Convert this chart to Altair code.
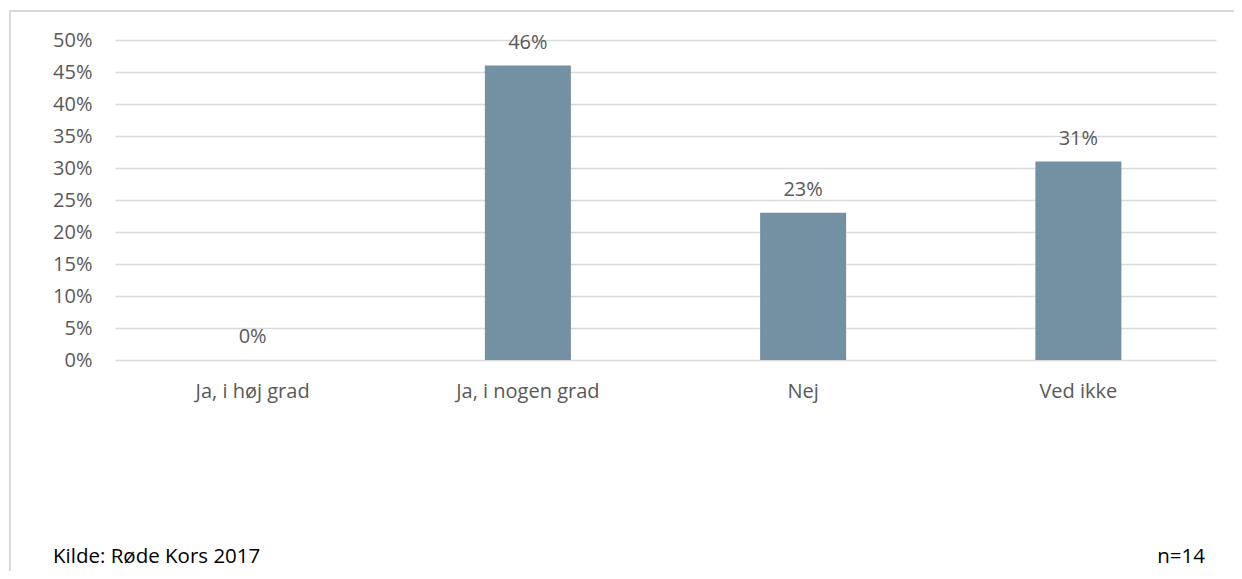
import altair as alt
import pandas as pd

categories = ["Ja, i høj grad", "Ja, i nogen grad", "Nej", "Ved ikke"]
values = [0.0, 0.46, 0.23, 0.31]
labels = ["0%", "46%", "23%", "31%"]
tick_values = [0.0, 0.05, 0.10, 0.15, 0.20, 0.25, 0.30, 0.35, 0.40, 0.45, 0.50]
source_note = "Kilde: Røde Kors 2017"
n_note = "n=14"

df = pd.DataFrame({"cat": categories, "val": values, "lab": labels})

FONT = "Open Sans"
TXT = "#595959"
W, H = 1101, 320
FS = 20

x = alt.X("cat:N", sort=categories, title=None,
          scale=alt.Scale(paddingInner=0, paddingOuter=0),
          axis=alt.Axis(labelAngle=0, ticks=False, domain=False, labelPadding=21,
                        labelFontSize=FS, labelColor=TXT, labelFont=FONT, grid=False))
y = alt.Y("val:Q", title=None,
          scale=alt.Scale(domain=[0, 0.5], nice=False),
          axis=alt.Axis(format=".0%", values=tick_values, ticks=False,
                        domain=False, labelPadding=23, labelFontSize=FS, labelColor=TXT,
                        labelFont=FONT, labelOverlap=False, labelFlush=False,
                        gridColor="#d9d9d9", gridWidth=1.3))

base = alt.Chart(df).encode(x=x, y=y)
bars = base.mark_bar(size=86, color="#7391a3")
text = base.mark_text(dy=-17, baseline="alphabetic", fontSize=FS, color=TXT, font=FONT).encode(text="lab:N")

frame = alt.Chart(df).mark_rect(fill=None, stroke="#d9d9d9", strokeWidth=1.5).encode(
    x=alt.value(-105), x2=alt.value(1200), y=alt.value(-29), y2=alt.value(600))

notes = pd.DataFrame({"t": [source_note]})
note1 = alt.Chart(notes).mark_text(align="left", baseline="alphabetic", fontSize=20.5, color="#000000", font=FONT).encode(
    x=alt.value(-62), y=alt.value(523), text="t:N")
notes2 = pd.DataFrame({"t": [n_note]})
note2 = alt.Chart(notes2).mark_text(align="right", baseline="alphabetic", fontSize=20.5, color="#000000", font=FONT).encode(
    x=alt.value(1090), y=alt.value(523), text="t:N")

chart = alt.layer(frame, bars, text, note1, note2).properties(
    width=W, height=H,
    autosize=alt.AutoSizeParams(type="none"),
    padding={"left": 107, "top": 32, "right": 18, "bottom": 211},
).configure(background="white").configure_view(stroke=None)

chart.save("out.html", embed_options={"renderer": "svg", "actions": False})
